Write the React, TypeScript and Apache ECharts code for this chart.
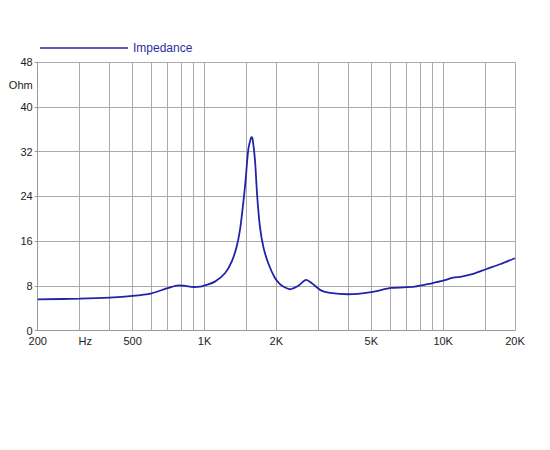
import React, { useEffect, useRef } from 'react';
import * as echarts from 'echarts';

// impedance curve (Hz, Ohm)
const freqs = [
    200, 300, 400, 500, 600, 700, 780, 830, 900, 960, 1000, 1106, 1218, 1300, 1364, 1408,
    1453, 1487, 1525, 1561, 1575, 1590, 1627, 1663, 1707, 1763, 1850, 1973, 2070, 2138,
    2280, 2470, 2670, 2810, 3075, 3355, 4000, 5000, 6080, 7610, 8950, 10000, 11020, 11950,
    13370, 15100, 17290, 20000
];
const impedance = [
    5.6, 5.71, 5.89, 6.2, 6.68, 7.58, 8.1, 7.99, 7.8, 7.86, 8.08, 8.76, 10.26, 12.34, 15.03, 18.0,
    22.8, 26.97, 32.35, 34.3, 34.6, 34.3, 30.56, 24.0, 18.6, 15.03, 12.05, 9.4, 8.3, 7.9,
    7.4, 8.0, 9.06, 8.5, 7.2, 6.75, 6.5, 6.9, 7.63, 7.86, 8.47, 8.94, 9.48, 9.66,
    10.14, 10.98, 11.87, 12.95
];

// vertical grid lines and the x labels
const gridFreqs = [
    200, 300, 400, 500, 600, 700, 800, 900, 1000, 1500, 2000, 3000, 4000, 5000, 6000, 7000,
    8000, 9000, 10000, 15000, 20000
];
const xLabelFreqs = [200, 316.23, 500, 1000, 2000, 5000, 10000, 20000];
const xLabelTexts = ['200', 'Hz', '500', '1K', '2K', '5K', '10K', '20K'];

// y grid lines and labels
const yGrid = [0, 8, 16, 24, 32, 40, 48];
const yLabelValues = [0, 8, 16, 24, 32, 40, 44, 48];
const yLabelTexts = ['0', '8', '16', '24', '32', '40', 'Ohm', '48'];

const lg = (v: number) => Math.log10(v);

const App: React.FC = () => {
    const chartRef = useRef<HTMLDivElement>(null);

    useEffect(() => {
        if (!chartRef.current) return;
        const chart = echarts.init(chartRef.current, null, { renderer: 'svg' });

        const font = '"Liberation Sans", Arial, sans-serif';
        const curveColor = '#2323a8';

        chart.setOption({
            animation: false,
            backgroundColor: '#fff',
            legend: {
                left: 40,
                top: 42,
                padding: 0,
                icon: 'rect',
                itemWidth: 88,
                itemHeight: 1.6,
                textStyle: { color: '#2e2e9e', fontSize: 12, fontFamily: font },
                data: ['Impedance']
            },
            grid: {
                left: 37.7,
                right: 35,
                top: 62.3,
                bottom: 119.4,
                containLabel: false
            },
            xAxis: {
                type: 'value',
                min: lg(200),
                max: lg(20000),
                axisLine: { show: true, lineStyle: { color: '#999', width: 1 } },
                axisTick: {
                    show: false,
                    customValues: gridFreqs.map(lg)
                },
                splitLine: { show: true, lineStyle: { color: '#aaa', width: 1 } },
                axisLabel: {
                    customValues: xLabelFreqs.map(lg),
                    margin: 5,
                    color: '#222',
                    fontSize: 11,
                    fontFamily: font,
                    showMinLabel: true,
                    showMaxLabel: true,
                    formatter: (v: number) => {
                        let best = 0;
                        xLabelFreqs.forEach((f, i) => {
                            if (Math.abs(lg(f) - v) < Math.abs(lg(xLabelFreqs[best]) - v)) best = i;
                        });
                        return xLabelTexts[best];
                    }
                }
            },
            yAxis: {
                type: 'value',
                min: 0,
                max: 48,
                axisLine: { show: true, lineStyle: { color: '#999', width: 1 } },
                axisTick: {
                    show: true,
                    length: 3,
                    customValues: yGrid,
                    lineStyle: { color: '#999' }
                },
                splitLine: { show: true, lineStyle: { color: '#aaa', width: 1 } },
                axisLabel: {
                    customValues: yLabelValues,
                    margin: 5,
                    color: '#222',
                    fontSize: 11,
                    fontFamily: font,
                    showMinLabel: true,
                    showMaxLabel: true,
                    formatter: (v: number) => {
                        const i = yLabelValues.indexOf(Math.round(v));
                        return i >= 0 ? yLabelTexts[i] : '';
                    }
                }
            },
            series: [
                {
                    name: 'Impedance',
                    type: 'line',
                    smooth: 0.3,
                    showSymbol: false,
                    color: curveColor,
                    lineStyle: { color: curveColor, width: 1.8 },
                    data: freqs.map((f, i) => [lg(f), impedance[i]])
                }
            ]
        });

        return () => {
            chart.dispose();
        };
    }, []);

    return (
        <div
            ref={chartRef}
            style={{ position: 'fixed', left: 0, top: 0, width: 550, height: 450 }}
        />
    );
};

export default App;
